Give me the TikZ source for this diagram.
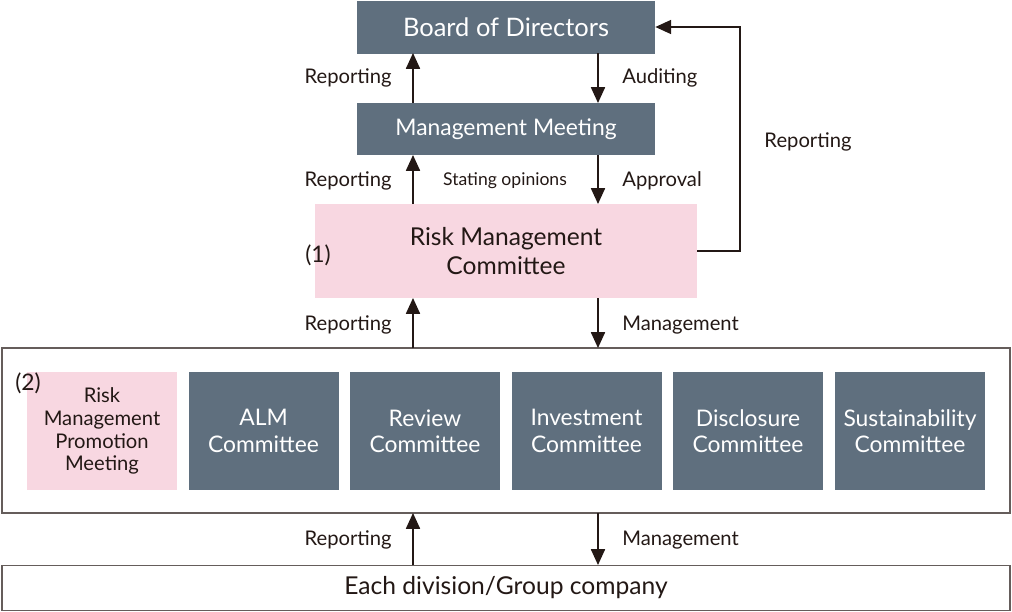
\documentclass[tikz,border=0pt]{standalone}
\usepackage{fontspec}
\setmainfont{Lato}
\usetikzlibrary{arrows.meta}
\definecolor{slate}{HTML}{5F6F7E}
\definecolor{rosa}{HTML}{F8D7E1}
\definecolor{ink}{HTML}{231815}

\begin{document}
\begin{tikzpicture}[
    x=0.02cm, y=-0.02cm,
    >={Triangle[length=9pt,width=8pt]},
    dark/.style={fill=slate, text=white, font=\fontsize{13}{15}\selectfont, align=center, inner sep=0pt},
    pinkbox/.style={fill=rosa, text=ink, align=center, inner sep=0pt},
    frame/.style={draw=ink!70, fill=white, line width=0.6pt},
    lab/.style={text=ink, font=\fontsize{11.5}{13}\selectfont, inner sep=0pt},
    flow/.style={->, draw=ink, line width=0.9pt}
]
\useasboundingbox (0,0) rectangle (1012,612);

% Top level
\node[dark, font=\fontsize{14.5}{16}\selectfont, minimum width=298*0.02cm, minimum height=53*0.02cm] (board) at (506,27) {Board of Directors};
\node[dark, minimum width=298*0.02cm, minimum height=52*0.02cm] (meeting) at (506,129) {Management Meeting};
\node[pinkbox, font=\fontsize{14}{17}\selectfont, minimum width=382*0.02cm, minimum height=94*0.02cm] (rmc) at (506,251) {Risk Management\\Committee};
\node[lab, font=\fontsize{13}{15}\selectfont] (one) at (318,255) {(1)};

% Committee frame
\draw[frame] (2,348) rectangle (1010,513);
\node[pinkbox, font=\fontsize{11.5}{13}\selectfont, minimum width=150*0.02cm, minimum height=118*0.02cm] (rmpm) at (102,431) {Risk\\Management\\Promotion\\Meeting};
\node[lab, font=\fontsize{13}{15}\selectfont] (two) at (28,383) {(2)};
\foreach \cx/\nm/\txt in {263.5/alm/ALM, 425/review/Review, 586.5/invest/Investment, 748/disc/Disclosure, 910/sust/Sustainability}
  \node[dark, minimum width=150*0.02cm, minimum height=118*0.02cm] (\nm) at (\cx,431) {\txt\\Committee};

% Bottom
\node[frame, draw, font=\fontsize{14}{16}\selectfont, text=ink, minimum width=1008*0.02cm, minimum height=45*0.02cm, inner sep=0pt] (each) at (506,588) {Each division/Group company};

% Vertical flows
\draw[flow] (413,103) -- (413,53);
\draw[flow] (598,53) -- (598,103);
\draw[flow] (413,204) -- (413,155);
\draw[flow] (598,155) -- (598,204);
\draw[flow] (413,348) -- (413,298);
\draw[flow] (598,298) -- (598,348);
\draw[flow] (413,565) -- (413,513);
\draw[flow] (598,513) -- (598,565);
\draw[flow] (rmc.east) -- (740,251) -- (740,27) -- (board.east);

% Labels
\foreach \yy/\nm in {78/rA, 181/rB, 325/rC, 540/rD}
  \node[lab, anchor=east] (\nm) at (392,\yy) {Reporting};
\node[lab, anchor=west] (aud) at (622,78) {Auditing};
\node[lab, anchor=west] (appr) at (622,181) {Approval};
\node[lab, anchor=west] (mgA) at (622,325) {Management};
\node[lab, anchor=west] (mgB) at (622,540) {Management};
\node[lab, font=\fontsize{10}{12}\selectfont] (stat) at (505,181) {Stating opinions};
\node[lab] (rE) at (808,142) {Reporting};
\end{tikzpicture}
\end{document}
